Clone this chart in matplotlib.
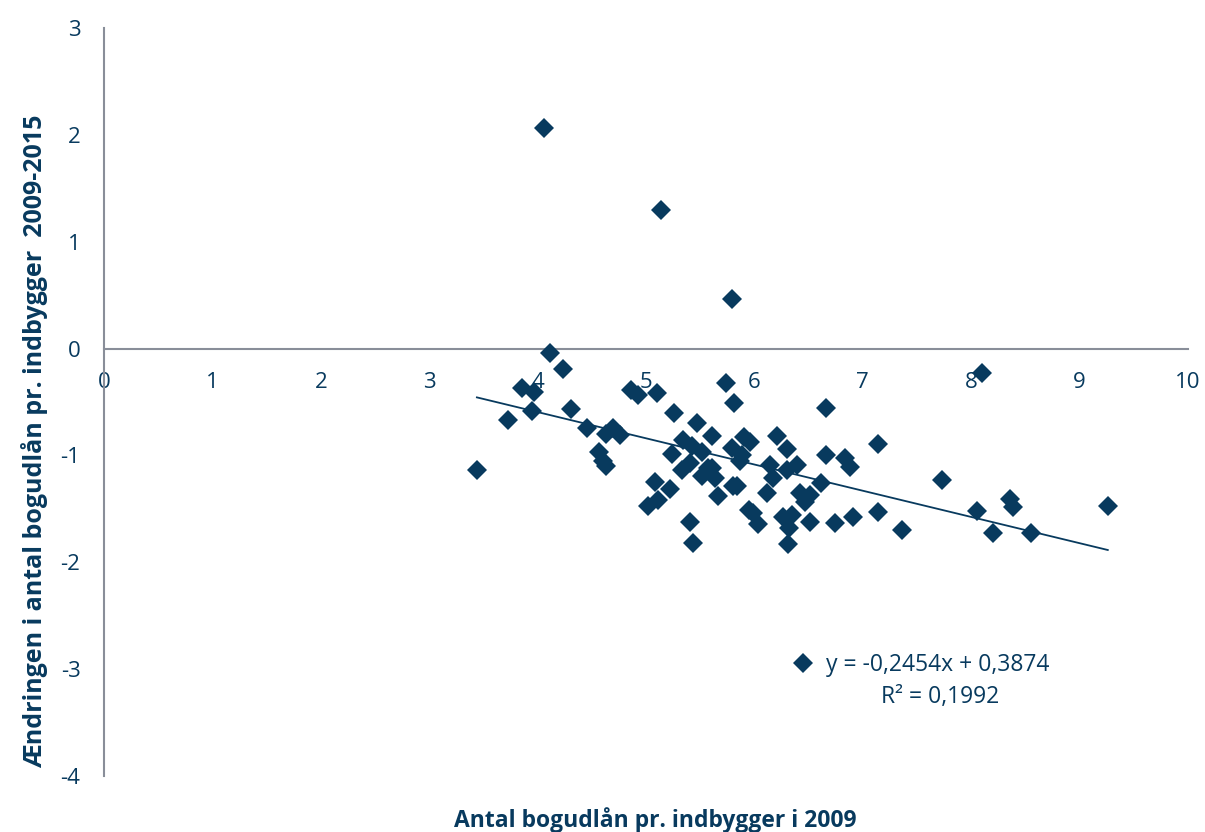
import numpy as np
import matplotlib
matplotlib.use('Agg')
import matplotlib.pyplot as plt

# Data (x: bogudlån pr. indbygger 2009, y: ændring 2009-2015)
x = [3.44, 3.73, 3.86, 3.97, 3.95, 4.06, 4.11, 4.23, 4.31, 4.46,
     4.57, 4.60, 4.63, 4.63, 4.70, 4.76,
     4.86, 4.93, 5.10, 5.14,
     5.26, 5.47, 5.61, 5.34, 5.24, 5.42, 5.52, 5.41, 5.33, 5.52,
     5.08, 5.22, 5.02, 5.11, 5.61, 5.41, 5.43, 5.66,
     5.74, 5.81, 5.79, 5.90, 5.96, 6.21, 6.30, 5.89, 5.87, 5.57, 5.64, 5.80,
     6.14, 6.17, 6.30, 6.39, 5.84, 6.12, 5.95, 5.99, 6.03, 6.26, 6.35, 6.32, 6.31, 6.42, 6.47,
     6.51, 6.61, 6.51, 6.66, 6.66, 6.84, 6.88, 6.74, 6.91, 7.14, 7.36, 7.14,
     7.73, 8.10, 8.05, 8.20, 8.36, 8.39, 8.55, 9.26, 5.79]
y = [-1.14, -0.67, -0.37, -0.41, -0.58, 2.06, -0.04, -0.19, -0.57, -0.74,
     -0.97, -1.05, -1.10, -0.80, -0.74, -0.81,
     -0.39, -0.43, -0.42, 1.30,
     -0.60, -0.70, -0.82, -0.86, -0.99, -0.91, -0.97, -1.07, -1.14, -1.19,
     -1.25, -1.31, -1.47, -1.42, -1.12, -1.62, -1.82, -1.38,
     -0.32, -0.51, -0.93, -0.83, -0.87, -0.82, -0.94, -1.00, -1.05, -1.12, -1.21, -1.29,
     -1.09, -1.21, -1.14, -1.09, -1.29, -1.35, -1.51, -1.54, -1.64, -1.58, -1.56, -1.68, -1.83, -1.35, -1.44,
     -1.37, -1.26, -1.62, -0.56, -1.00, -1.02, -1.11, -1.63, -1.58, -1.53, -1.70, -0.89,
     -1.23, -0.23, -1.52, -1.73, -1.41, -1.48, -1.73, -1.47, 0.46]

slope = -0.2454
intercept = 0.3874
r2 = 0.1992

navy = '#083A5E'
grey = '#898E99'

plt.rcParams['font.family'] = ['Open Sans', 'DejaVu Sans']
plt.rcParams['axes.unicode_minus'] = False


def komma(v):
    return f'{v:.4f}'.replace('.', ',')


fig = plt.figure(figsize=(12.05, 8.32), dpi=100)
ax = fig.add_axes([104 / 1205, 1 - 776 / 832, 1084 / 1205, 748 / 832])

pts, = ax.plot(x, y, linestyle='none', marker='D', markersize=10.5,
               markeredgewidth=0, color=navy, zorder=3)

# lineær tendenslinje
xs = np.array([min(x), max(x)])
ax.plot(xs, slope * xs + intercept, color=navy, linewidth=1.3, zorder=4)

ax.set_xlim(0, 10)
ax.set_ylim(-4, 3)
ax.set_xticks(range(0, 11))
ax.set_yticks(range(-4, 4))

for s in ['top', 'right']:
    ax.spines[s].set_visible(False)
ax.spines['bottom'].set_position(('data', 0))
ax.spines['bottom'].set_color(grey)
ax.spines['left'].set_color(grey)
ax.spines['bottom'].set_linewidth(1.5)
ax.spines['left'].set_linewidth(1.5)
ax.tick_params(axis='both', length=0, labelsize=16, labelcolor=navy)
ax.tick_params(axis='y', pad=17)
ax.tick_params(axis='x', pad=17)

fig.text(655 / 1205, 1 - 820 / 832, 'Antal bogudlån pr. indbygger i 2009',
         ha='center', va='center', fontsize=16.5, fontweight='bold', color=navy)
fig.text(35 / 1205, 1 - 441 / 832, 'Ændringen i antal bogudlån pr. indbygger  2009-2015',
         ha='center', va='center', rotation=90, fontsize=18, fontweight='bold', color=navy)

ax.legend([pts], [f'y = {komma(slope)}x + {komma(intercept)}'],
          loc='center left', bbox_to_anchor=(792 / 1205, 1 - 665 / 832),
          bbox_transform=fig.transFigure,
          frameon=False, fontsize=16.5, handlelength=1.0, handletextpad=0.5,
          labelcolor=navy, borderaxespad=0, borderpad=0)
fig.text(940 / 1205, 1 - 697 / 832, f'R² = {komma(r2)}',
         fontsize=16.5, color=navy, ha='center', va='center')

fig.savefig('out.png', dpi=100)
